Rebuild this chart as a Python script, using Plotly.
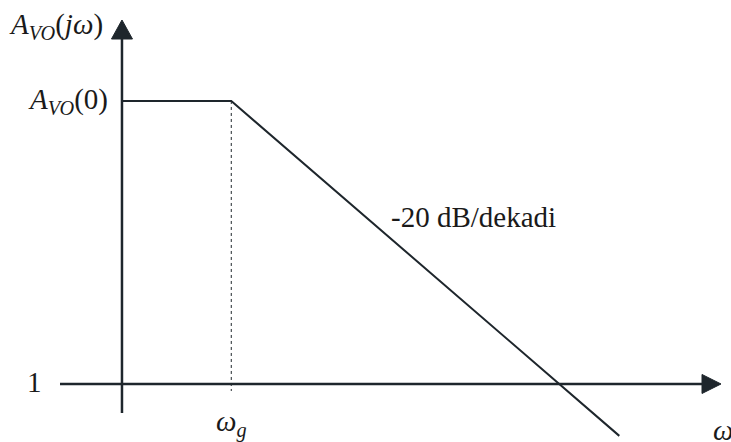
import numpy as np
import plotly.graph_objects as go

# ---- data (schematic Bode magnitude asymptote) ----
omega_pts = [1, 10, 35500]          # rad/s : axis origin, corner ω_g, end of sketch
gain_db = [60, 60, -11]             # dB    : A_VO(0) level, then -20 dB/decade
omega_g = 10
A0_db = 60
slope_label = "-20 dB/dekadi"

W, H = 731, 442
x_range = [-1.116, 5.572]           # log10(ω)
y_range = [-12.30, 81.41]           # dB
px_x = W / (x_range[1] - x_range[0])
px_y = H / (y_range[1] - y_range[0])
def dx(p): return p / px_x
def dy(p): return p / px_y

lx = np.log10(omega_pts)
lg = np.log10(omega_g)
col = "#1e262c"

fig = go.Figure()
# asymptote
fig.add_trace(go.Scatter(x=lx, y=gain_db, mode="lines",
                         line=dict(color=col, width=2), hoverinfo="skip"))
# dotted corner line
fig.add_trace(go.Scatter(x=[lg, lg], y=[A0_db, -dy(7)], mode="lines",
                         line=dict(color=col, width=1, dash="dot"), hoverinfo="skip"))
# axes
x0 = 0.0
yax_top = y_range[1] - dy(20)
fig.add_trace(go.Scatter(x=[x0, x0], y=[-dy(29), yax_top - dy(10)], mode="lines",
                         line=dict(color=col, width=2.5), hoverinfo="skip"))
xax_tip = x_range[0] + dx(721)
fig.add_trace(go.Scatter(x=[x_range[0] + dx(60), xax_tip - dx(10)], y=[0, 0], mode="lines",
                         line=dict(color=col, width=2.5), hoverinfo="skip"))
# arrowheads
fig.add_trace(go.Scatter(x=[x0 - dx(10.5), x0 + dx(10.5), x0, x0 - dx(10.5)],
                         y=[yax_top - dy(19), yax_top - dy(19), yax_top, yax_top - dy(19)],
                         mode="lines", fill="toself", fillcolor=col,
                         line=dict(color=col, width=1), hoverinfo="skip"))
fig.add_trace(go.Scatter(x=[xax_tip - dx(19), xax_tip - dx(19), xax_tip, xax_tip - dx(19)],
                         y=[-dy(9.5), dy(9.5), 0, -dy(9.5)],
                         mode="lines", fill="toself", fillcolor=col,
                         line=dict(color=col, width=1), hoverinfo="skip"))

font = dict(family="Liberation Serif, Times New Roman, serif", size=29, color="#1a1a1a")
ann = [
    dict(x=x0 - dx(17), y=yax_top - dy(6), text="<i>A</i><sub><i>VO</i></sub>(<i>jω</i>)",
         xanchor="right", yanchor="middle"),
    dict(x=x0 - dx(12), y=A0_db, text="<i>A</i><sub><i>VO</i></sub>(0)",
         xanchor="right", yanchor="middle"),
    dict(x=x0 - dx(87), y=dy(2), text="1", xanchor="center", yanchor="middle"),
    dict(x=lg, y=-dy(40), text="<i>ω</i><sub><i>g</i></sub>", xanchor="center", yanchor="middle"),
    dict(x=x_range[0] + dx(711), y=-dy(46), text="<i>ω</i>", xanchor="left", yanchor="middle"),
    dict(x=x_range[0] + dx(389), y=A0_db - dy(116), text=slope_label,
         xanchor="left", yanchor="middle"),
]
for a in ann:
    a.update(showarrow=False, font=font)
fig.update_layout(annotations=ann)

fig.update_layout(width=W, height=H, margin=dict(l=0, r=0, t=0, b=0),
                  paper_bgcolor="white", plot_bgcolor="white", showlegend=False,
                  xaxis=dict(range=x_range, visible=False, fixedrange=True),
                  yaxis=dict(range=y_range, visible=False, fixedrange=True))
fig.write_html("out.html", config={"displayModeBar": False, "staticPlot": True})

# remove the default page margin so the figure sits at the window's corner
with open("out.html", encoding="utf-8") as f:
    html = f.read()
html = html.replace("<head>", "<head><style>html,body{margin:0;padding:0;overflow:hidden}</style>", 1)
with open("out.html", "w", encoding="utf-8") as f:
    f.write(html)
